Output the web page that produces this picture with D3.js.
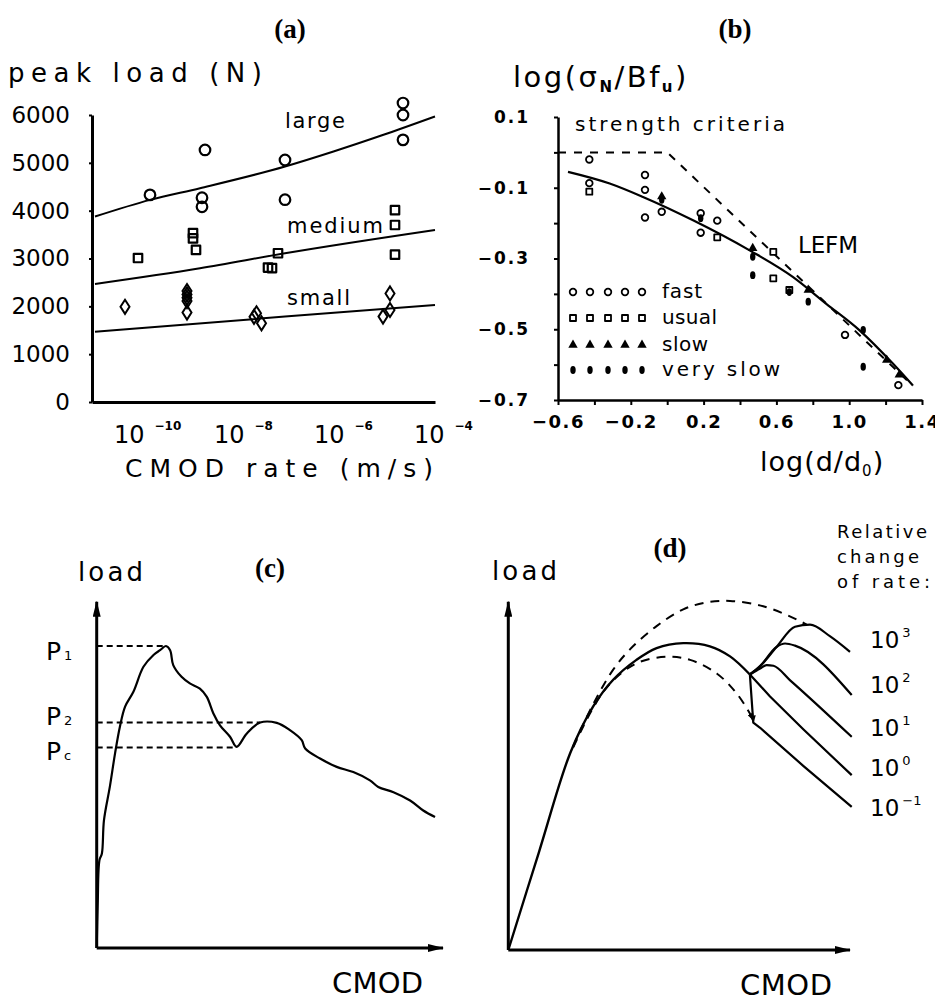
<!DOCTYPE html>
<html>
<head>
<meta charset="utf-8">
<script src="https://cdn.jsdelivr.net/npm/d3@7"></script>
<style>
  body { margin: 0; background: #fff; }
  text { font-family: "DejaVu Sans", sans-serif; fill: #000; }
  .title { font-family: "Liberation Serif", serif; font-weight: bold; }
</style>
</head>
<body>
<svg id="fig" width="935" height="1004"></svg>
<script>
// ---- (a) peak load vs CMOD rate (rate stored as log10 of m/s) ----
const rateTicks = [-10, -8, -6, -4];
const loadTicks = [0, 1000, 2000, 3000, 4000, 5000, 6000];
const largePts = [[-9.70, 4330], [-8.60, 5270], [-8.66, 4270], [-8.66, 4080], [-7.0, 5060],
  [-7.0, 4230], [-4.64, 6250], [-4.64, 6000], [-4.64, 5480]];
const mediumPts = [[-9.94, 3010], [-8.84, 3530], [-8.84, 3420], [-8.78, 3180], [-7.34, 2810],
  [-7.26, 2800], [-7.14, 3110], [-4.80, 4010], [-4.80, 3700], [-4.80, 3080]];
const smallPts = [[-10.2, 1990], [-8.96, 2320], [-8.96, 2250], [-8.96, 2180], [-8.96, 2110],
  [-8.96, 1870], [-7.57, 1855], [-7.62, 1780], [-7.47, 1645], [-4.9, 2270], [-4.9, 1925], [-5.04, 1785]];
const largeFit = [[-10.8, 3877], [-9.7, 4226], [-8.7, 4470], [-7.0, 4923], [-6.03, 5237], [-5.03, 5586], [-4.0, 5969]];
const mediumFit = [[-10.8, 2469], [-8.7, 2797], [-7.0, 3111], [-4.0, 3598]];
const smallFit = [[-10.8, 1471], [-7.0, 1785], [-4.0, 2029]];

// ---- (b) size effect ----
const bYTicks = [-0.7, -0.6, -0.5, -0.4, -0.3, -0.2, -0.1, 0, 0.1];
const bYLabels = [-0.7, -0.5, -0.3, -0.1, 0.1];
const bXTicks = [-0.6, -0.4, -0.2, 0, 0.2, 0.4, 0.6, 0.8, 1.0, 1.2, 1.4];
const bXLabels = [-0.6, -0.2, 0.2, 0.6, 1.0, 1.4];
const fastPts = [[-0.428, -0.020], [-0.428, -0.087], [-0.122, -0.064], [-0.122, -0.106], [-0.122, -0.184],
  [-0.030, -0.168], [0.184, -0.172], [0.184, -0.227], [0.275, -0.193], [0.977, -0.516], [1.27, -0.658]];
const usualPts = [[-0.428, -0.111], [0.583, -0.281], [0.583, -0.356], [0.671, -0.389], [0.275, -0.240]];
const slowPts = [[-0.030, -0.125], [0.47, -0.271], [0.775, -0.389], [1.206, -0.587], [1.275, -0.629]];
const verySlowPts = [[-0.030, -0.134], [0.184, -0.186], [0.47, -0.295], [0.47, -0.347], [0.775, -0.422],
  [1.077, -0.502], [1.077, -0.606], [0.671, -0.395]];
const strengthCrit = [[-0.6, 0], [0, 0], [1.35, -0.66]];
const sizeEffect = [[-0.545, -0.055], [-0.316, -0.088], [-0.133, -0.126], [0.142, -0.192], [0.453, -0.277],
  [0.69, -0.352], [0.874, -0.428], [1.057, -0.503], [1.24, -0.597], [1.35, -0.659]];
const speedNames = ["fast", "usual", "slow", "very slow"];

// ---- (c) load-CMOD record (arbitrary units 0..100) ----
const cCurve = [[0, 0], [0.3, 12.9], [0.8, 25.4], [1.5, 27.3], [2.1, 36.9], [3.8, 46.6], [5.3, 56.2],
  [6.7, 63.9], [8.2, 69.7], [10.6, 74.0], [13.5, 81.2], [16.4, 84.6], [18.3, 86.0], [20.0, 87.2],
  [21.2, 86.0], [22.1, 81.7], [24.5, 78.3], [26.9, 76.4], [29.8, 74.9], [31.8, 72.5], [33.7, 67.7],
  [35.6, 64.3], [38.5, 61.0], [40.4, 58.1], [43.3, 61.9], [47.2, 65.1], [52.0, 65.0], [55.8, 62.9],
  [59.2, 60.0], [60.2, 57.6], [64.5, 54.7], [69.3, 52.3], [74.1, 50.8], [78.9, 48.4], [81.3, 46.5],
  [85.7, 45.0], [90.5, 42.6], [94.3, 39.7], [97.7, 37.8]];
const cLevels = [["1", 87.2, 20.0], ["2", 65.1, 47.2], ["c", 57.9, 40.4]];

// ---- (d) rate change sketch (arbitrary units 0..100) ----
const dMain = [[0, 0], [9, 28.2], [18.1, 56.5], [24.8, 69.9], [30.7, 77.6], [37.5, 83.3], [43.4, 86.7],
  [51.2, 88.1], [59.0, 87.2], [64.9, 84.3], [70.7, 79.1]];
const dUpper = [[19, 58.5], [24.8, 70.5], [30.7, 80.5], [35.6, 86.3], [43.4, 93.0], [51.2, 97.8],
  [58, 99.8], [64.9, 100.2], [74.6, 98.7], [84.4, 94.9], [87.3, 93.4]];
const dLower = [[19, 58.2], [24.8, 69.5], [29.8, 76.5], [37.5, 82.3], [46.3, 84.2], [53.2, 83.3],
  [61.0, 79.4], [66.8, 73.7], [70.7, 67.9], [71.7, 66.0]];
const dBranches = [
  [[70.7, 79.1], [73.7, 81.5], [78.5, 87.0], [83.9, 92.8], [88.3, 93.4], [94.1, 90.1], [100, 85.6]],
  [[70.7, 79.1], [73.7, 81.5], [78.5, 87.0], [81.0, 88.0], [83.9, 87.4], [100.5, 73.2]],
  [[70.7, 79.1], [73.7, 80.8], [75.6, 81.8], [77.6, 81.6], [82.4, 77.5], [100.5, 61.2]],
  [[70.7, 79.1], [76.6, 72.8], [86.4, 63.3], [100.5, 50.2]],
  [[70.7, 79.1], [71.7, 65.3], [73.7, 63.8], [86.4, 52.8], [100.5, 41.1]]
];
const rateExps = ["3", "2", "1", "0", "−1"];
const rateLabelY = [89.3, 76.4, 64.0, 52.5, 41.1];

const svg = d3.select("#fig");
svg.append("rect").attr("width", 935).attr("height", 1004).attr("fill", "#fff");

const defs = svg.append("defs");
defs.append("marker").attr("id", "arr").attr("viewBox", "0 0 16 8")
  .attr("refX", 15).attr("refY", 4).attr("markerWidth", 16).attr("markerHeight", 8)
  .attr("markerUnits", "userSpaceOnUse").attr("orient", "auto")
  .append("path").attr("d", "M0,0L16,4L0,8Z").attr("fill", "#000");
defs.append("marker").attr("id", "arrSm").attr("viewBox", "0 0 8 6")
  .attr("refX", 7).attr("refY", 3).attr("markerWidth", 8).attr("markerHeight", 6)
  .attr("markerUnits", "userSpaceOnUse").attr("orient", "auto")
  .append("path").attr("d", "M0,0L8,3L0,6Z").attr("fill", "#000");

function txt(x, y, s, size, len, anchor) {
  const t = svg.append("text").attr("x", x).attr("y", y).attr("font-size", size).text(s);
  if (len) t.attr("textLength", len).attr("lengthAdjust", "spacing");
  if (anchor) t.attr("text-anchor", anchor);
  return t;
}
function styleAxis(g, size, width) {
  g.attr("font-family", "DejaVu Sans").attr("font-size", size);
  g.select(".domain").attr("stroke-width", width);
  g.selectAll(".tick line").attr("stroke-width", 2);
}

// ================= (a) =================
const xA = d3.scaleLog().domain([10 ** -10.86, 1e-4]).range([92, 435]);
const yA = d3.scaleLinear().domain([0, 6000]).range([402, 115]);

const ayA = svg.append("g").attr("transform", "translate(92,0)")
  .call(d3.axisLeft(yA).tickValues(loadTicks).tickSize(3).tickSizeOuter(0).tickPadding(19).tickFormat(d3.format("d")));
styleAxis(ayA, 23, 3);
const axA = svg.append("g").attr("transform", "translate(0,402)")
  .call(d3.axisBottom(xA).tickValues([]).tickSizeOuter(0));
styleAxis(axA, 20, 3);

rateTicks.forEach(e => {
  const t = txt(xA(10 ** e) - 21, 443, "10", 24);
  t.append("tspan").attr("dx", 10).attr("dy", -13).attr("font-size", 12).attr("font-weight", "bold")
    .text("−" + Math.abs(e));
});

const lineA = d3.line().x(d => xA(10 ** d[0])).y(d => yA(d[1])).curve(d3.curveMonotoneX);
[largeFit, mediumFit, smallFit].forEach(f => {
  svg.append("path").attr("d", lineA(f)).attr("fill", "none").attr("stroke", "#000").attr("stroke-width", 2);
});

svg.append("g").selectAll(null).data(largePts).join("circle")
  .attr("cx", d => xA(10 ** d[0])).attr("cy", d => yA(d[1])).attr("r", 5.3)
  .attr("fill", "none").attr("stroke", "#000").attr("stroke-width", 2.2);
svg.append("g").selectAll(null).data(mediumPts).join("path")
  .attr("transform", d => `translate(${xA(10 ** d[0])},${yA(d[1])})`)
  .attr("d", d3.symbol(d3.symbolSquare, 72))
  .attr("fill", "none").attr("stroke", "#000").attr("stroke-width", 2.2).attr("stroke-linejoin", "round");
svg.append("g").selectAll(null).data(smallPts).join("path")
  .attr("transform", d => `translate(${xA(10 ** d[0])},${yA(d[1])})`)
  .attr("d", "M0,-7L4.5,0L0,7L-4.5,0Z")
  .attr("fill", "none").attr("stroke", "#000").attr("stroke-width", 2);

txt(285, 128, "large", 21, 60);
txt(287, 233, "medium", 21, 96);
txt(287, 305, "small", 21, 63);
txt(8, 82, "peak load (N)", 26, 254);
txt(125, 477, "CMOD rate (m/s)", 25, 308);
txt(290, 38, "(a)", 27, null, "middle").attr("class", "title");

// ================= (b) =================
const xB = d3.scaleLinear().domain([-0.6, 1.4]).range([558, 922]);
const yB = d3.scaleLinear().domain([-0.7, 0.1]).range([400, 117]);
const fmtB = d3.format(".1f");

const ayB = svg.append("g").attr("transform", "translate(558,0)")
  .call(d3.axisLeft(yB).tickValues(bYTicks).tickSize(4).tickSizeOuter(0).tickPadding(24)
    .tickFormat(d => bYLabels.includes(d) ? fmtB(d) : ""));
styleAxis(ayB, 17, 2.5);
ayB.selectAll("text").attr("letter-spacing", 2).attr("font-weight", "bold");
const axB = svg.append("g").attr("transform", "translate(0,400)")
  .call(d3.axisBottom(xB).tickValues(bXTicks).tickSize(5).tickSizeOuter(0).tickPadding(10)
    .tickFormat(d => bXLabels.includes(d) ? fmtB(d) : ""));
styleAxis(axB, 18, 2.5);
axB.selectAll("text").attr("letter-spacing", 1.5).attr("font-weight", "bold");

const lineB = d3.line().x(d => xB(d[0])).y(d => yB(d[1]));
svg.append("path").attr("d", lineB(strengthCrit)).attr("fill", "none").attr("stroke", "#000")
  .attr("stroke-width", 2).attr("stroke-dasharray", "8,8");
svg.append("path").attr("d", lineB.curve(d3.curveMonotoneX)(sizeEffect)).attr("fill", "none")
  .attr("stroke", "#000").attr("stroke-width", 2.2);

function speedMark(sel, k) {
  if (k === 0) {
    sel.append("circle").attr("r", 3.3).attr("fill", "#fff").attr("stroke", "#000").attr("stroke-width", 1.8);
  } else if (k === 1) {
    sel.append("path").attr("d", d3.symbol(d3.symbolSquare, 36)).attr("fill", "#fff")
      .attr("stroke", "#000").attr("stroke-width", 1.8).attr("stroke-linejoin", "round");
  } else if (k === 2) {
    sel.append("path").attr("d", d3.symbol(d3.symbolTriangle, 38)).attr("fill", "#000");
  } else {
    sel.append("ellipse").attr("rx", 2.7).attr("ry", 3.9).attr("fill", "#000");
  }
}
[fastPts, usualPts, slowPts, verySlowPts].forEach((pts, k) => {
  svg.append("g").selectAll(null).data(pts).join("g")
    .attr("transform", d => `translate(${xB(d[0])},${yB(d[1])})`)
    .each(function () { speedMark(d3.select(this), k); });
});

// legend
const legendX = [573, 590, 608, 625, 642];
const legendY = [292, 318, 345, 370];
const legendLen = [40, 55, 46, 118];
speedNames.forEach((name, k) => {
  legendX.forEach(x => speedMark(svg.append("g").attr("transform", `translate(${x},${legendY[k]})`), k));
  txt(662, legendY[k] + 6, name, 20, legendLen[k]);
});

txt(575, 131, "strength criteria", 20, 210);
txt(798, 253, "LEFM", 23, 60);
const yLabB = txt(513, 87, "log(σ", 29).attr("letter-spacing", 2.5);
yLabB.append("tspan").attr("dy", 5).attr("font-size", 15).attr("font-weight", "bold").text("N");
yLabB.append("tspan").attr("dy", -5).text("/Bf");
yLabB.append("tspan").attr("dy", 5).attr("font-size", 15).attr("font-weight", "bold").text("u");
yLabB.append("tspan").attr("dy", -5).text(")");
const xLabB = txt(760, 471, "log(d/d", 27).attr("letter-spacing", 1);
xLabB.append("tspan").attr("dy", 5).attr("font-size", 15).text("0");
xLabB.append("tspan").attr("dy", -5).text(")");
txt(735, 38, "(b)", 27, null, "middle").attr("class", "title");

// ================= (c) =================
const xC = d3.scaleLinear().domain([0, 100]).range([96.7, 443]);
const yC = d3.scaleLinear().domain([0, 100]).range([948, 601.7]);
const lineC = d3.line().x(d => xC(d[0])).y(d => yC(d[1]));

svg.append("path").attr("d", lineC([[0, 0], [0, 100]])).attr("stroke", "#000").attr("stroke-width", 3).attr("marker-end", "url(#arr)");
svg.append("path").attr("d", lineC([[0, 0], [100, 0]])).attr("stroke", "#000").attr("stroke-width", 3).attr("marker-end", "url(#arr)");
cLevels.forEach(([, lvl, xe]) => {
  svg.append("path").attr("d", lineC([[0, lvl], [xe, lvl]])).attr("stroke", "#000")
    .attr("stroke-width", 2).attr("stroke-dasharray", "6,4");
});
svg.append("path").attr("d", lineC.curve(d3.curveCatmullRom)(cCurve)).attr("fill", "none")
  .attr("stroke", "#000").attr("stroke-width", 2.2).attr("stroke-linejoin", "round");

const pBase = [660, 725, 760];
cLevels.forEach(([sub], i) => {
  const t = txt(46, pBase[i], "P", 25);
  t.append("tspan").attr("dx", 3).attr("font-size", 13).text(sub);
});
txt(78, 581, "load", 26, 65);
txt(332, 993, "CMOD", 29, 91);
txt(270, 577, "(c)", 27, null, "middle").attr("class", "title");

// ================= (d) =================
const xD = d3.scaleLinear().domain([0, 100]).range([508.3, 850]);
const yD = d3.scaleLinear().domain([0, 100]).range([950, 601.7]);
const lineD = d3.line().x(d => xD(d[0])).y(d => yD(d[1]));

svg.append("path").attr("d", lineD([[0, 0], [0, 100]])).attr("stroke", "#000").attr("stroke-width", 3).attr("marker-end", "url(#arr)");
svg.append("path").attr("d", lineD([[0, 0], [100, 0]])).attr("stroke", "#000").attr("stroke-width", 3).attr("marker-end", "url(#arr)");

svg.append("path").attr("d", lineD.curve(d3.curveCatmullRom)(dUpper)).attr("fill", "none")
  .attr("stroke", "#000").attr("stroke-width", 2).attr("stroke-dasharray", "9,7");
svg.append("path").attr("d", lineD.curve(d3.curveCatmullRom)(dLower)).attr("fill", "none")
  .attr("stroke", "#000").attr("stroke-width", 2).attr("stroke-dasharray", "9,7").attr("marker-end", "url(#arrSm)");
svg.append("path").attr("d", lineD.curve(d3.curveCatmullRom)(dMain)).attr("fill", "none")
  .attr("stroke", "#000").attr("stroke-width", 2.4);
dBranches.forEach((b, i) => {
  svg.append("path").attr("d", lineD.curve(i < 3 ? d3.curveMonotoneX : d3.curveLinear)(b)).attr("fill", "none")
    .attr("stroke", "#000").attr("stroke-width", 2.2).attr("stroke-linejoin", "round");
});
// downward arrow on the drop of the slowest branch
svg.append("path").attr("d", lineD.curve(d3.curveLinear)(dBranches[4].slice(0, 2))).attr("fill", "none")
  .attr("stroke", "none").attr("marker-end", "url(#arrSm)");

rateExps.forEach((e, i) => {
  const t = txt(870, yD(rateLabelY[i]) + 9, "10", 23);
  t.append("tspan").attr("dx", 3).attr("dy", -11).attr("font-size", 13).text(e);
});
txt(837, 538, "Relative", 18, 90);
txt(837, 563, "change", 18, 82);
txt(837, 588, "of rate:", 18, 93);
txt(492, 580, "load", 26, 65);
txt(740, 995, "CMOD", 29, 92);
txt(670, 557, "(d)", 27, null, "middle").attr("class", "title");
</script>
</body>
</html>
